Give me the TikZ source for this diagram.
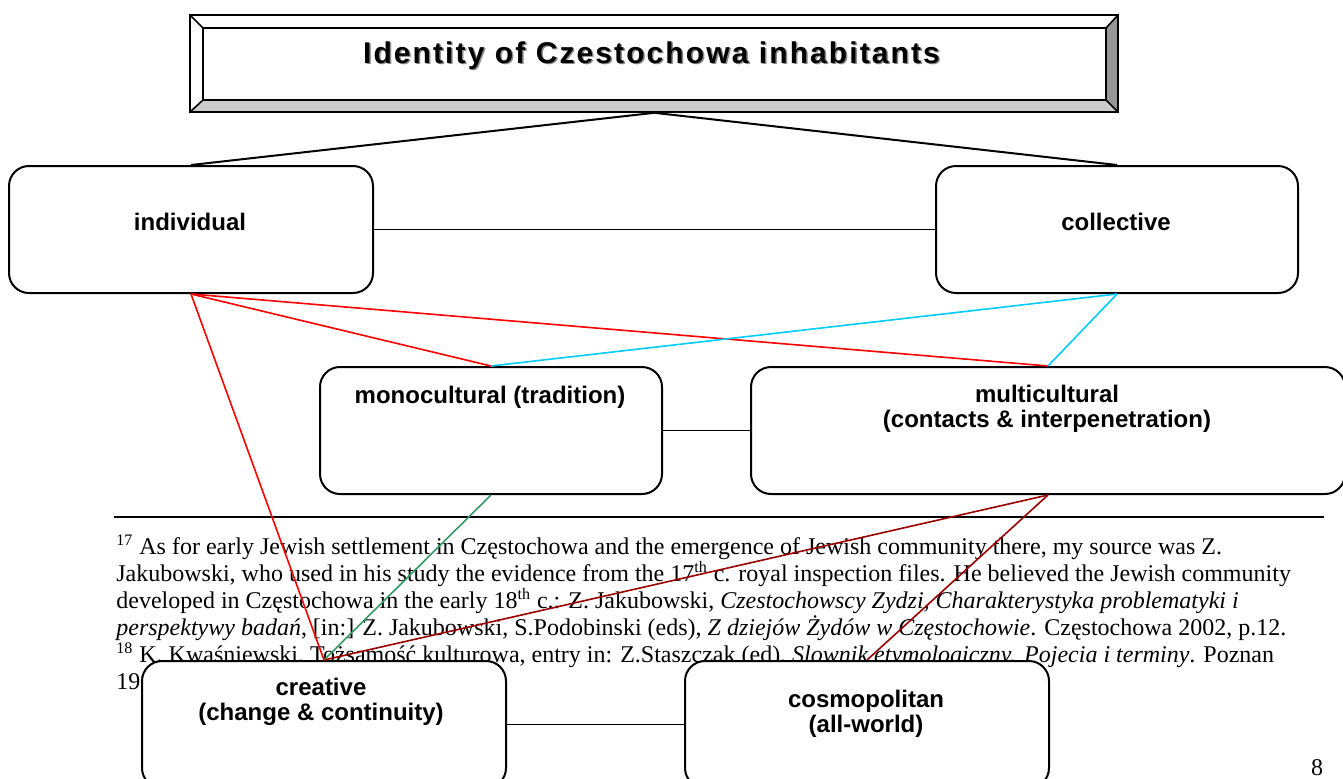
\documentclass[tikz,border=0pt]{standalone}
\usepackage{fontspec}
\setmainfont{Liberation Serif}
\setsansfont{Liberation Sans}
\definecolor{linkred}{RGB}{255,0,0}
\definecolor{linkblue}{RGB}{0,204,255}
\definecolor{linkgreen}{RGB}{51,153,102}
\definecolor{linkdark}{RGB}{153,0,0}
\definecolor{bevelgray}{RGB}{204,204,204}
\definecolor{beveldark}{RGB}{150,150,150}
\begin{document}
\begin{tikzpicture}[x=0.5pt,y=-0.5pt,
  box/.style={draw,line width=1pt,rounded corners=10pt,fill=white,minimum height=63.5pt,anchor=north west,inner sep=0pt},
  lbl/.style={font=\sffamily\bfseries\fontsize{12}{12.5}\selectfont,align=center,inner sep=0pt},
  titletxt/.style={font=\sffamily\bfseries\fontsize{15}{18}\selectfont\addfontfeature{LetterSpace=7},anchor=base,inner sep=0pt},
  note/.style={font=\fontsize{12}{13.5}\selectfont,anchor=base west,inner sep=0pt},
  tieline/.style={line width=1pt},
  link/.style={line width=0.8pt}]
\useasboundingbox (0,0) rectangle (1343,778);
% title with bevel
\fill[bevelgray] (190,112) -- (1118,112) -- (1106,100) -- (203,100) -- cycle;
\fill[beveldark] (1118,15) -- (1118,112) -- (1106,100) -- (1106,28) -- cycle;
\draw[line width=1pt] (190,15) rectangle (1118,112);
\draw[line width=1pt] (203,28) rectangle (1106,100);
\draw[line width=0.8pt] (190,15) -- (203,28) (1118,15) -- (1106,28) (190,112) -- (203,100) (1118,112) -- (1106,100);
\node[inner sep=0pt,minimum width=464pt,minimum height=48.5pt,anchor=north west] (title) at (190,15) {};
\node[titletxt,text=black!45] (titleshadow) at (653,64.5) {Identity of Czestochowa inhabitants};
\node[titletxt] (titletext) at (651.5,63) {Identity of Czestochowa inhabitants};
% footnotes
\draw[line width=1pt] (114,517) -- (1324,517);
\node[note] (fn1) at (116,554) {\textsuperscript{17} As for early Jewish settlement in Częstochowa and the emergence of Jewish community there, my source was Z.};
\node[note] (fn2) at (116,581) {Jakubowski, who used in his study the evidence from the 17\textsuperscript{th} c. royal inspection files. He believed the Jewish community};
\node[note] (fn3) at (116,608) {developed in Częstochowa in the early 18\textsuperscript{th} c.: Z. Jakubowski, \textit{Czestochowscy Zydzi, Charakterystyka problematyki i}};
\node[note] (fn4) at (116,635) {\textit{perspektywy badań}, [in:] Z. Jakubowski, S.Podobinski (eds), \textit{Z dziejów Żydów w Częstochowie}. Częstochowa 2002, p.12.};
\node[note] (fn5) at (116,662) {\textsuperscript{18} K. Kwaśniewski, Tożsamość kulturowa, entry in: Z.Staszczak (ed), \textit{Slownik etymologiczny. Pojecia i terminy}. Poznan};
\node[note] (fn6) at (116,689) {198};
\node[font=\fontsize{12}{14}\selectfont,anchor=south,inner sep=0pt] (pgnum) at (1317,776) {8};
% boxes
\node[box,minimum width=182pt] (ind) at (8,165) {};
\node[box,minimum width=181pt] (coll) at (935,165) {};
\node[box,minimum width=171pt] (mono) at (319,366) {};
\node[box,minimum width=297pt] (multi) at (750,366) {};
\node[box,minimum width=182pt] (crea) at (141,660) {};
\node[box,minimum width=182pt] (cosmo) at (684,660) {};
\node[lbl] (indtxt) at (190,222) {individual};
\node[lbl] (colltxt) at (1116,222) {collective};
\node[lbl] (monotxt) at (490,397) {monocultural (tradition)};
\node[lbl] (multitxt) at (1047,409) {multicultural\\(contacts \& interpenetration)};
\node[lbl] (creatxt) at (321,702) {creative\\(change \& continuity)};
\node[lbl] (cosmotxt) at (866,714) {cosmopolitan\\(all-world)};
% connectors
\draw[tieline] (title.south) -- (ind.north);
\draw[tieline] (title.south) -- (coll.north);
\draw[link] (ind.east) -- (coll.west);
\draw[link] (mono.east) -- (multi.west);
\draw[link] (crea.east) -- (cosmo.west);
\draw[link,linkred] (ind.south) -- (mono.north);
\draw[link,linkred] (ind.south) -- (multi.north);
\draw[link,linkred] (ind.south) -- (crea.north);
\draw[link,linkblue] (coll.south) -- (mono.north);
\draw[link,linkblue] (coll.south) -- (multi.north);
\draw[link,linkgreen] (mono.south) -- (crea.north);
\draw[link,linkdark] (multi.south) -- (crea.north);
\draw[link,linkdark] (multi.south) -- (cosmo.north);
\end{tikzpicture}
\end{document}
